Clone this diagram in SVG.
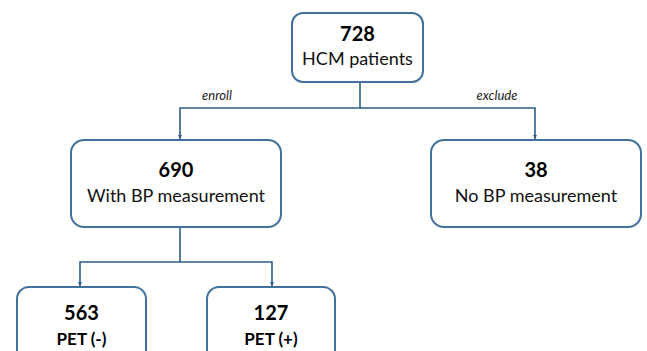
<svg xmlns="http://www.w3.org/2000/svg" width="647" height="351" viewBox="0 0 647 351">
<defs>
<style>
.box{fill:#ffffff;stroke:#41719c;stroke-width:2}
.num{font-family:Lato,"Liberation Sans",sans-serif;font-weight:bold;font-size:20px;fill:#000;text-anchor:middle}
.lbl{font-family:Lato,"Liberation Sans",sans-serif;font-size:18px;fill:#111;text-anchor:middle}
.lblb{font-family:Lato,"Liberation Sans",sans-serif;font-weight:bold;font-size:17px;fill:#000;text-anchor:middle}
.edge{font-family:Lato,"Liberation Sans",sans-serif;font-style:italic;font-size:13px;fill:#222;text-anchor:middle}
.conn{fill:none;stroke:#2e5d8a;stroke-width:1.6}
</style>
<marker id="arr" viewBox="0 0 6 6" refX="6" refY="3" markerWidth="4" markerHeight="4" orient="auto" markerUnits="userSpaceOnUse">
<path d="M0,0 L6,3 L0,6 z" fill="#2e5d8a"/>
</marker>
</defs>
<rect width="647" height="351" fill="#ffffff"/>
<g id="connectors">
<path class="conn" d="M360,83 V108 H180 V139" marker-end="url(#arr)"/>
<path class="conn" d="M360,108 H535 V139" marker-end="url(#arr)"/>
<path class="conn" d="M180,228 V262 H80 V286" marker-end="url(#arr)"/>
<path class="conn" d="M180,262 H272 V286" marker-end="url(#arr)"/>
<text class="edge" x="217" y="100">enroll</text>
<text class="edge" x="497" y="100">exclude</text>
</g>
<g id="node-728">
<rect class="box" x="292" y="13" width="131" height="69" rx="11"/>
<text class="num" x="357.5" y="41">728</text>
<text class="lbl" x="357.5" y="65">HCM patients</text>
</g>
<g id="node-690">
<rect class="box" x="71" y="140" width="210" height="87" rx="13"/>
<text class="num" x="176" y="177">690</text>
<text class="lbl" x="176" y="202">With BP measurement</text>
</g>
<g id="node-38">
<rect class="box" x="431" y="140" width="210" height="87" rx="13"/>
<text class="num" x="536" y="177">38</text>
<text class="lbl" x="536" y="202">No BP measurement</text>
</g>
<g id="node-563">
<rect class="box" x="17" y="287" width="129" height="80" rx="12"/>
<text class="num" x="81.5" y="320">563</text>
<text class="lblb" x="81.5" y="345">PET (-)</text>
</g>
<g id="node-127">
<rect class="box" x="207" y="287" width="128" height="80" rx="12"/>
<text class="num" x="271" y="320">127</text>
<text class="lblb" x="271" y="345">PET (+)</text>
</g>
</svg>
